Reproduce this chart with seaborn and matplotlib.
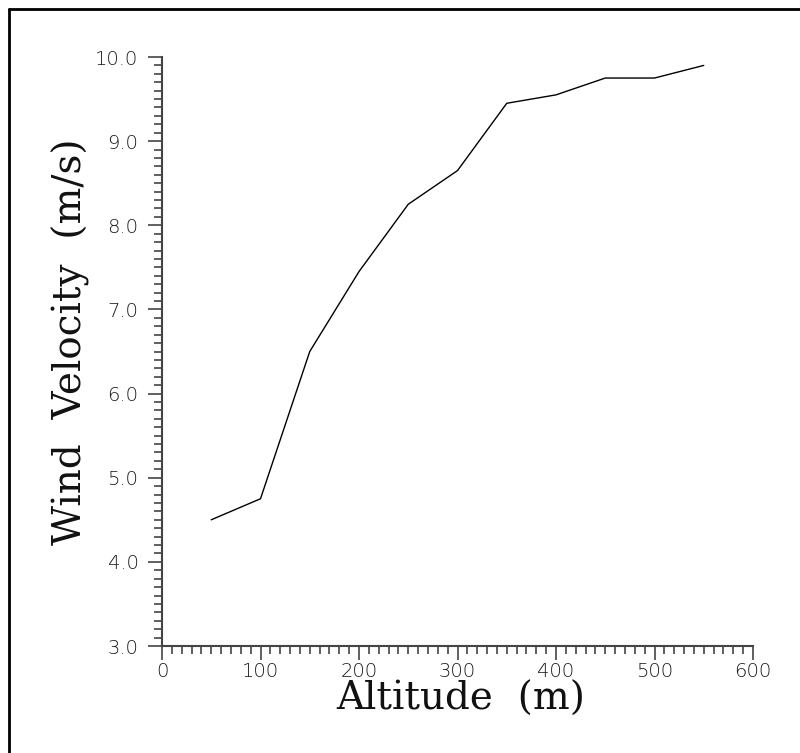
import matplotlib
matplotlib.use("Agg")
import matplotlib.pyplot as plt
import seaborn as sns
import pandas as pd
from matplotlib.ticker import MultipleLocator, FormatStrFormatter
from matplotlib.lines import Line2D

altitude = [50, 100, 150, 200, 250, 300, 350, 400, 450, 500, 550]
velocity = [4.5, 4.75, 6.5, 7.45, 8.25, 8.65, 9.45, 9.55, 9.75, 9.75, 9.9]
x_ticks = [0, 100, 200, 300, 400, 500, 600]
y_ticks = [3.0, 4.0, 5.0, 6.0, 7.0, 8.0, 9.0, 10.0]

sns.set_theme(style="white")
plt.rcParams['font.family'] = ['DejaVu Sans']

df = pd.DataFrame({"Altitude": altitude, "Velocity": velocity})

W, H = 800, 753
fig = plt.figure(figsize=(W/100, H/100), dpi=100)
ax = fig.add_axes([162/W, 1-646/H, (753-162)/W, (646-57)/H])
sns.lineplot(data=df, x="Altitude", y="Velocity", ax=ax, color="black", linewidth=1.0)

ax.set_xlim(0, 600)
ax.set_ylim(3.0, 10.0)
ax.set_xticks(x_ticks)
ax.set_yticks(y_ticks)
ax.xaxis.set_minor_locator(MultipleLocator(10))
ax.yaxis.set_minor_locator(MultipleLocator(0.1))
ax.yaxis.set_major_formatter(FormatStrFormatter('%.1f'))
ax.tick_params(which='major', direction='out', length=10, width=1.2, color='#444444',
               labelsize=14, labelcolor='#1a1a1a')
ax.tick_params(which='minor', direction='out', length=6, width=1.2, color='#444444')
ax.tick_params(axis='x', which='major', pad=1.5)
ax.tick_params(axis='y', which='major', pad=7)
ax.tick_params(axis='both', which='both', bottom=True, left=True, top=False, right=False)
for lab in ax.get_xticklabels() + ax.get_yticklabels():
    lab.set_fontweight('light')

for s in ['top', 'right']:
    ax.spines[s].set_visible(False)
for s in ['left', 'bottom']:
    ax.spines[s].set_color('#444444')
    ax.spines[s].set_linewidth(1.5)

ax.set_xlabel("")
ax.set_ylabel("")
fig.text(461/W, 1-710/H, "Altitude  (m)", fontfamily='DejaVu Serif', fontsize=28,
         color='#111111', ha='center', va='baseline')
fig.text(82/W, 1-342/H, "Wind  Velocity  (m/s)", fontfamily='DejaVu Serif', fontsize=28,
         color='#111111', ha='center', va='baseline', rotation=90, rotation_mode='anchor')

# figure frame lines (top and left)
fig.add_artist(Line2D([9/W, 1.0], [1-9/H, 1-9/H], transform=fig.transFigure, color='black', linewidth=2))
fig.add_artist(Line2D([9/W, 9/W], [0, 1-9/H], transform=fig.transFigure, color='black', linewidth=2))

fig.savefig("out.png", dpi=100, facecolor='white')
